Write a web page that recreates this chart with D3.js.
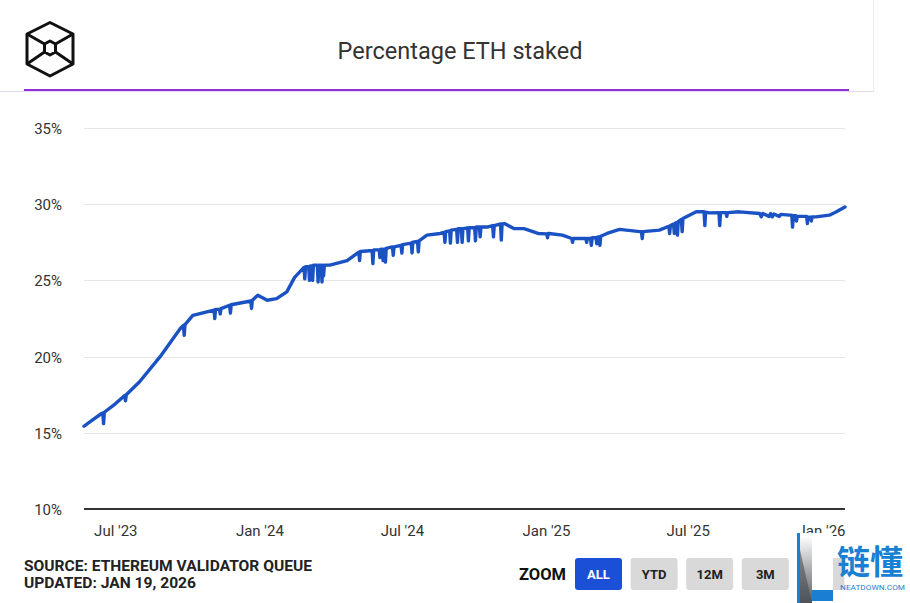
<!DOCTYPE html>
<html>
<head>
<meta charset="utf-8">
<script src="https://cdn.jsdelivr.net/npm/d3@7"></script>
<style>
  body { margin: 0; background: #fff; }
  svg { display: block; font-family: Roboto, "Noto Sans", sans-serif; }
</style>
</head>
<body>
<svg id="chart" width="910" height="603"></svg>
<script>
// percentage of ETH supply staked (dips kept as 1-day spikes)
const series = [
  ["2023-05-22", 15.43], ["2023-06-02", 15.85], ["2023-06-13", 16.25],
  ["2023-06-15", 16.3], ["2023-06-16", 15.6], ["2023-06-17", 16.35],
  ["2023-07-01", 16.9], ["2023-07-13", 17.45], ["2023-07-14", 17.1], ["2023-07-15", 17.5],
  ["2023-08-01", 18.35], ["2023-08-27", 19.98], ["2023-09-22", 21.84],
  ["2023-09-26", 22.05], ["2023-09-27", 21.4], ["2023-09-28", 22.1],
  ["2023-10-08", 22.7], ["2023-10-26", 22.93],
  ["2023-11-04", 23.05], ["2023-11-05", 22.5], ["2023-11-06", 23.1],
  ["2023-11-11", 23.1], ["2023-11-12", 22.8], ["2023-11-13", 23.15],
  ["2023-11-24", 23.37], ["2023-11-25", 22.85], ["2023-11-26", 23.4],
  ["2023-12-16", 23.6], ["2023-12-21", 23.65], ["2023-12-22", 23.16], ["2023-12-23", 23.7],
  ["2023-12-30", 24.03], ["2024-01-11", 23.7], ["2024-01-23", 23.8],
  ["2024-02-05", 24.25], ["2024-02-15", 25.2],
  ["2024-02-27", 25.85], ["2024-02-28", 25.1], ["2024-02-29", 25.9],
  ["2024-03-04", 25.9], ["2024-03-05", 25.0], ["2024-03-06", 25.95],
  ["2024-03-08", 25.95], ["2024-03-09", 25.0], ["2024-03-10", 26.0],
  ["2024-03-15", 26.0], ["2024-03-16", 24.9], ["2024-03-17", 26.0],
  ["2024-03-20", 26.0], ["2024-03-21", 24.9], ["2024-03-22", 26.0],
  ["2024-03-23", 25.3], ["2024-03-24", 26.0],
  ["2024-03-31", 26.0], ["2024-04-22", 26.3],
  ["2024-05-07", 26.85], ["2024-05-08", 26.3], ["2024-05-09", 26.9],
  ["2024-05-21", 26.95], ["2024-05-24", 26.95], ["2024-05-25", 26.1], ["2024-05-26", 27.0],
  ["2024-06-02", 27.0], ["2024-06-03", 26.5], ["2024-06-04", 27.05],
  ["2024-06-06", 27.05], ["2024-06-07", 26.3], ["2024-06-08", 27.05],
  ["2024-06-09", 27.05], ["2024-06-10", 26.2], ["2024-06-11", 27.1],
  ["2024-06-19", 27.2], ["2024-06-20", 26.65], ["2024-06-21", 27.2],
  ["2024-06-30", 27.3], ["2024-07-01", 26.8], ["2024-07-02", 27.35],
  ["2024-07-13", 27.45], ["2024-07-14", 26.8], ["2024-07-15", 27.5],
  ["2024-07-21", 27.55], ["2024-07-22", 26.87], ["2024-07-23", 27.6],
  ["2024-08-02", 27.97], ["2024-08-19", 28.08],
  ["2024-08-24", 28.15], ["2024-08-25", 27.5], ["2024-08-26", 28.2],
  ["2024-08-31", 28.25], ["2024-09-01", 27.45], ["2024-09-02", 28.3],
  ["2024-09-09", 28.35], ["2024-09-10", 27.5], ["2024-09-11", 28.4],
  ["2024-09-15", 28.4], ["2024-09-16", 27.5], ["2024-09-17", 28.4],
  ["2024-09-23", 28.45], ["2024-09-24", 27.6], ["2024-09-25", 28.45],
  ["2024-10-02", 28.45], ["2024-10-03", 27.6], ["2024-10-04", 28.5],
  ["2024-10-08", 28.5], ["2024-10-09", 27.86], ["2024-10-10", 28.5],
  ["2024-10-18", 28.5], ["2024-10-25", 28.6], ["2024-10-26", 27.86], ["2024-10-27", 28.6],
  ["2024-11-04", 28.7], ["2024-11-05", 27.64], ["2024-11-06", 28.7],
  ["2024-11-09", 28.73], ["2024-11-21", 28.4], ["2024-12-04", 28.4], ["2024-12-22", 28.08],
  ["2025-01-02", 28.05], ["2025-01-03", 27.8], ["2025-01-04", 28.08],
  ["2025-01-05", 28.08], ["2025-01-22", 27.97],
  ["2025-02-03", 27.75], ["2025-02-04", 27.5], ["2025-02-05", 27.75],
  ["2025-02-21", 27.75], ["2025-02-22", 27.5], ["2025-02-23", 27.75],
  ["2025-02-27", 27.75], ["2025-02-28", 27.3], ["2025-03-01", 27.8],
  ["2025-03-06", 27.8], ["2025-03-07", 27.4], ["2025-03-08", 27.85],
  ["2025-03-10", 27.85], ["2025-03-11", 27.3], ["2025-03-12", 27.9],
  ["2025-03-20", 28.08], ["2025-04-05", 28.35], ["2025-05-01", 28.2],
  ["2025-05-03", 28.2], ["2025-05-04", 27.75], ["2025-05-05", 28.2],
  ["2025-05-26", 28.3],
  ["2025-06-07", 28.55], ["2025-06-08", 28.08], ["2025-06-09", 28.6],
  ["2025-06-13", 28.7], ["2025-06-14", 28.08], ["2025-06-15", 28.75],
  ["2025-06-17", 28.8], ["2025-06-18", 27.97], ["2025-06-19", 28.85],
  ["2025-06-23", 29.0], ["2025-06-24", 28.2], ["2025-06-25", 29.06],
  ["2025-07-12", 29.5], ["2025-07-22", 29.5], ["2025-07-23", 28.6], ["2025-07-24", 29.48],
  ["2025-07-29", 29.43], ["2025-08-10", 29.45], ["2025-08-11", 28.6], ["2025-08-12", 29.45],
  ["2025-08-19", 29.45], ["2025-08-20", 29.2], ["2025-08-21", 29.45],
  ["2025-09-05", 29.5], ["2025-10-01", 29.39], ["2025-10-03", 29.17], ["2025-10-05", 29.39],
  ["2025-10-13", 29.2], ["2025-10-15", 29.38], ["2025-10-17", 29.17], ["2025-10-19", 29.36],
  ["2025-10-26", 29.2], ["2025-10-28", 29.33], ["2025-11-08", 29.28],
  ["2025-11-11", 29.28], ["2025-11-12", 28.5], ["2025-11-13", 29.25],
  ["2025-11-16", 29.25], ["2025-11-17", 28.9], ["2025-11-18", 29.2],
  ["2025-11-30", 29.2], ["2025-12-01", 28.73], ["2025-12-02", 29.15],
  ["2025-12-05", 29.15], ["2025-12-06", 28.9], ["2025-12-07", 29.17],
  ["2025-12-12", 29.17], ["2025-12-29", 29.28], ["2026-01-07", 29.5], ["2026-01-18", 29.82]
];

const yTicks = [10, 15, 20, 25, 30, 35];
const xTicks = ["2023-07-01", "2024-01-01", "2024-07-01", "2025-01-01", "2025-07-01", "2026-01-01"];
const zoomButtons = ["ALL", "YTD", "12M", "3M", "1M"];

const parse = d3.timeParse("%Y-%m-%d");
const data = series.map(d => ({date: parse(d[0]), value: d[1]}));

const svg = d3.select("#chart");
const plotLeft = 84, plotRight = 845, plotTop = 128, plotBottom = 509;

const x = d3.scaleTime()
    .domain([parse("2023-05-22"), parse("2026-01-18")])
    .range([plotLeft, plotRight]);
const y = d3.scaleLinear().domain([10, 35]).range([plotBottom, plotTop]);

// header card edges
svg.append("line").attr("x1", 0).attr("x2", 873).attr("y1", 91.5).attr("y2", 91.5)
    .attr("stroke", "#ead9ef").attr("stroke-width", 1);
svg.append("line").attr("x1", 873.5).attr("x2", 873.5).attr("y1", 0).attr("y2", 92)
    .attr("stroke", "#eeeeee");
svg.append("line").attr("x1", 24).attr("x2", 849).attr("y1", 90).attr("y2", 90)
    .attr("stroke", "#8e2fd8").attr("stroke-width", 2);

// logo (cube outline with small inner hexagon)
const logo = svg.append("g").attr("fill", "none").attr("stroke", "#111")
    .attr("stroke-width", 3).attr("stroke-linejoin", "round");
logo.append("path").attr("d", "M50,22.5 L73,34 L73,64 L50,76 L27,64 L27,34 Z");
logo.append("path").attr("d", "M50,41 L55.5,44 L55.5,52 L50,55 L44.5,52 L44.5,44 Z");
logo.append("path").attr("d", "M27,34 L44.5,44 M73,34 L55.5,44 M27,64 L44.5,52 M73,64 L55.5,52");

svg.append("text").attr("x", 460).attr("y", 59).attr("text-anchor", "middle")
    .attr("font-size", 23.5).attr("fill", "#333").text("Percentage ETH staked");

// grid + y labels
svg.append("g").selectAll("line").data(yTicks.filter(t => t > 10)).join("line")
    .attr("x1", plotLeft).attr("x2", plotRight)
    .attr("y1", d => Math.round(y(d)) + 0.5).attr("y2", d => Math.round(y(d)) + 0.5)
    .attr("stroke", "#e6e6e6");

svg.append("g").selectAll("text").data(yTicks).join("text")
    .attr("x", 62).attr("y", d => y(d) + 6).attr("text-anchor", "end")
    .attr("font-size", 15).attr("fill", "#333").text(d => d + "%");

// x axis
const xAxis = svg.append("g").attr("transform", `translate(0,${plotBottom})`)
    .call(d3.axisBottom(x).tickValues(xTicks.map(parse)).tickSize(0).tickPadding(16)
        .tickFormat(d3.timeFormat("%b '%y")));
xAxis.select(".domain").attr("stroke", "#333").attr("stroke-width", 2)
    .attr("d", `M${plotLeft},0H${plotRight}`);
xAxis.selectAll("text").attr("font-size", 15).attr("fill", "#333")
    .attr("font-family", "Roboto, sans-serif");
xAxis.selectAll(".tick").filter((d, i) => i === xTicks.length - 1).select("text")
    .attr("text-anchor", "end").attr("dx", d => plotRight - x(d));

// the line
svg.append("path").datum(data)
    .attr("fill", "none").attr("stroke", "#1a52c4").attr("stroke-width", 3.4)
    .attr("stroke-linejoin", "round").attr("stroke-linecap", "round")
    .attr("d", d3.line().x(d => x(d.date)).y(d => y(d.value)));

// footer
svg.append("text").attr("x", 24).attr("y", 571).attr("font-size", 15).attr("font-weight", 700)
    .attr("fill", "#222").attr("textLength", 288).attr("lengthAdjust", "spacingAndGlyphs")
    .text("SOURCE: ETHEREUM VALIDATOR QUEUE");
svg.append("text").attr("x", 24).attr("y", 588).attr("font-size", 15).attr("font-weight", 700)
    .attr("fill", "#222").attr("textLength", 172).attr("lengthAdjust", "spacingAndGlyphs")
    .text("UPDATED: JAN 19, 2026");

svg.append("text").attr("x", 519).attr("y", 580).attr("font-size", 16).attr("font-weight", 700)
    .attr("fill", "#111").attr("textLength", 47).attr("lengthAdjust", "spacingAndGlyphs")
    .text("ZOOM");

const btn = svg.append("g").selectAll("g").data(zoomButtons).join("g")
    .attr("transform", (d, i) => `translate(${575 + i * 55.6},558)`);
btn.append("rect").attr("width", 47).attr("height", 32).attr("rx", 3)
    .attr("fill", (d, i) => i === 0 ? "#1a4fd6" : "#d9d9d9");
btn.append("text").attr("x", 23.5).attr("y", 21).attr("text-anchor", "middle")
    .attr("font-size", 13).attr("font-weight", 700)
    .attr("fill", (d, i) => i === 0 ? "#fff" : "#222").text(d => d);

// watermark
const defs = svg.append("defs");
const grad = defs.append("linearGradient").attr("id", "wm").attr("x1", 0).attr("y1", 0).attr("x2", 0).attr("y2", 1);
grad.append("stop").attr("offset", "0%").attr("stop-color", "#ffffff");
grad.append("stop").attr("offset", "100%").attr("stop-color", "#555b60");
const wm = svg.append("g");
wm.append("rect").attr("x", 797).attr("y", 533).attr("width", 36).attr("height", 70).attr("fill", "#fff");
wm.append("path").attr("d", "M800,536 L812,536 L812,603 L800,603 Z").attr("fill", "url(#wm)");
wm.append("path").attr("d", "M797,533 L800,533 L800,603 L797,603 Z").attr("fill", "#1a7fd0");
wm.append("path").attr("d", "M812,590 L833,590 L833,601 L812,601 Z").attr("fill", "#1a7fd0");
wm.append("path").attr("d", "M800,550 L812,603 L800,603 Z").attr("fill", "#4a4f55").attr("opacity", 0.6);
wm.append("text").attr("x", 837).attr("y", 574).attr("font-size", 33)
    .attr("font-family", "'Noto Sans CJK SC', sans-serif").attr("font-weight", 700)
    .attr("fill", "#1a80d2").text("链懂");
wm.append("text").attr("x", 840).attr("y", 590).attr("font-size", 7.5)
    .attr("fill", "#1a80d2").attr("textLength", 65).attr("lengthAdjust", "spacingAndGlyphs")
    .text("NEATDOWN.COM");
</script>
</body>
</html>
